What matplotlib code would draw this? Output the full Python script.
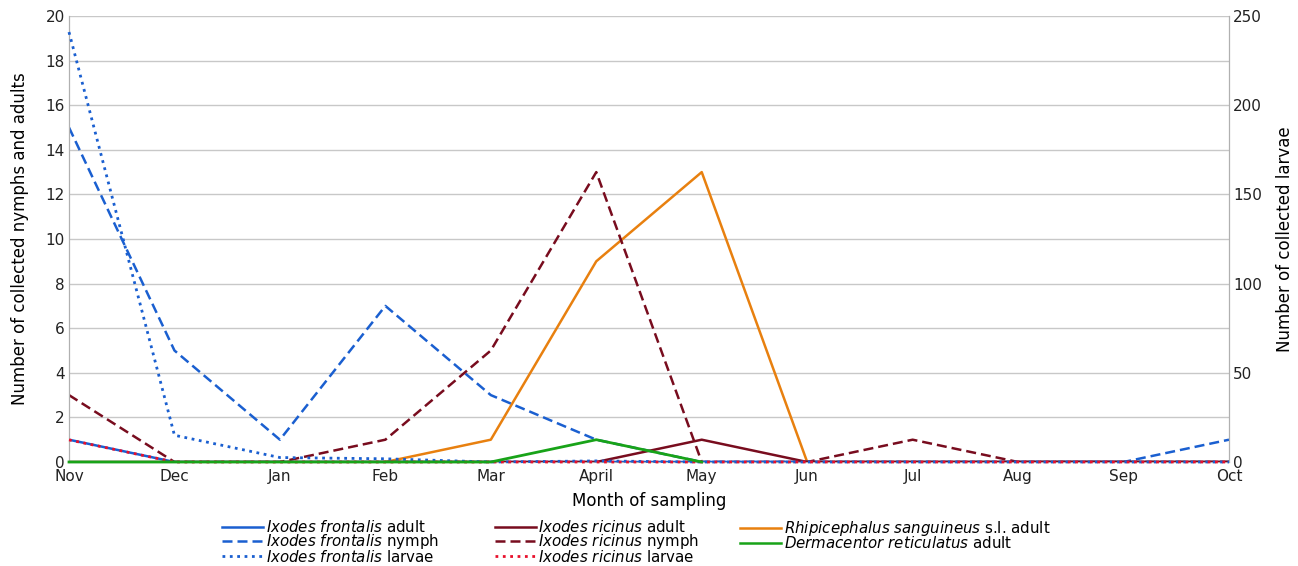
import matplotlib.pyplot as plt
from matplotlib.lines import Line2D

# Data
months = ['Nov', 'Dec', 'Jan', 'Feb', 'Mar', 'April', 'May', 'Jun', 'Jul', 'Aug', 'Sep', 'Oct']
frontalis_adult = [1, 0, 0, 0, 0, 0, 0, 0, 0, 0, 0, 0]
frontalis_nymph = [15, 5, 1, 7, 3, 1, 0, 0, 0, 0, 0, 1]
frontalis_larvae = [241, 15, 2.5, 1.8, 0, 0.6, 0, 0, 0, 0, 0, 0]
ricinus_adult = [0, 0, 0, 0, 0, 0, 1, 0, 0, 0, 0, 0]
ricinus_nymph = [3, 0, 0, 1, 5, 13, 0, 0, 1, 0, 0, 0]
ricinus_larvae = [12.4, 0, 0, 0, 0, 0, 0, 0, 0, 0, 0, 0]
rhipicephalus_adult = [None, None, None, 0, 1, 9, 13, 0, 0, 0, 0, 0]
dermacentor_adult = [0, 0, 0, 0, 0, 1, 0, None, None, None, None, None]

BLUE = '#1a5fd0'
DRED = '#780c1e'
RED = '#e8102c'
ORANGE = '#e8800f'
GREEN = '#18a318'

x = list(range(len(months)))
plt.rcParams['mathtext.fontset'] = 'dejavusans'

fig = plt.figure(figsize=(12.98, 5.66), dpi=100)
ax = fig.add_axes([69/1298, 1-462/566, (1229-69)/1298, (462-16)/566])
ax2 = ax.twinx()

def nan(v):
    return [e if e is not None else float('nan') for e in v]

ax.plot(x, nan(rhipicephalus_adult), '-', color=ORANGE, lw=1.8, zorder=3)
ax.plot(x, frontalis_nymph, '--', color=BLUE, lw=1.8, dashes=(4, 2), zorder=3)
ax.plot(x, ricinus_nymph, '--', color=DRED, lw=1.8, dashes=(4, 2), zorder=3)
ax.plot(x, frontalis_adult, '-', color=BLUE, lw=1.8, zorder=4)
ax.plot(x, ricinus_adult, '-', color=DRED, lw=1.8, zorder=4)
ax2.plot(x, frontalis_larvae, ':', color=BLUE, lw=2.0, zorder=3, clip_on=False)
ax2.plot(x, ricinus_larvae, ':', color=RED, lw=2.0, zorder=3, clip_on=False)
# drawn in the right-hand axes' layer (left-axis scale) so it sits on top
ax2.plot(x, nan(dermacentor_adult), '-', color=GREEN, lw=2.0, zorder=5,
         transform=ax.transData, clip_on=False)

ax.set_xlim(0, 11)
ax.set_ylim(0, 20)
ax.set_yticks(range(0, 21, 2))
ax2.set_ylim(0, 250)
ax2.set_yticks(range(0, 251, 50))
ax.set_xticks(x)
ax.set_xticklabels(months)
ax.grid(axis='y', color='#c8c8c8', lw=1)
ax.set_axisbelow(True)
for a in (ax, ax2):
    a.tick_params(length=0, labelsize=11, colors='#222222', pad=3)
    for s in a.spines.values():
        s.set_color('#b0b0b0')
    a.spines['top'].set_visible(False)
ax2.spines['bottom'].set_visible(False)
ax.tick_params(axis='x', pad=5)

ax.set_xlabel('Month of sampling', fontsize=12, labelpad=6)
ax.set_ylabel('Number of collected nymphs and adults', fontsize=12, labelpad=12)
ax2.set_ylabel('Number of collected larvae', fontsize=12, labelpad=10)

handles = [
    Line2D([], [], color=BLUE, lw=1.8, ls='-'),
    Line2D([], [], color=BLUE, lw=1.8, ls='--', dashes=(4, 2)),
    Line2D([], [], color=BLUE, lw=2, ls=':'),
    Line2D([], [], color=DRED, lw=1.8, ls='-'),
    Line2D([], [], color=DRED, lw=1.8, ls='--', dashes=(4, 2)),
    Line2D([], [], color=RED, lw=2, ls=':'),
    Line2D([], [], color=ORANGE, lw=1.8, ls='-'),
    Line2D([], [], color=GREEN, lw=1.8, ls='-'),
]
labels = [
    r'$\it{Ixodes\ frontalis}$ adult',
    r'$\it{Ixodes\ frontalis}$ nymph',
    r'$\it{Ixodes\ frontalis}$ larvae',
    r'$\it{Ixodes\ ricinus}$ adult',
    r'$\it{Ixodes\ ricinus}$ nymph',
    r'$\it{Ixodes\ ricinus}$ larvae',
    r'$\it{Rhipicephalus\ sanguineus}$ s.l. adult',
    r'$\it{Dermacentor\ reticulatus}$ adult',
]
# one legend per column, placed at the reference columns
cols = [(0, 3, 216), (3, 6, 489), (6, 8, 734)]
for i0, i1, px in cols:
    leg = fig.legend(handles[i0:i1], labels[i0:i1], loc='upper left',
                     bbox_to_anchor=(px/1298, 1-513/566), frameon=False,
                     fontsize=10.8, handlelength=2.7, handletextpad=0.2,
                     labelspacing=-0.18, borderaxespad=0)

fig.savefig('out.png', dpi=100)
